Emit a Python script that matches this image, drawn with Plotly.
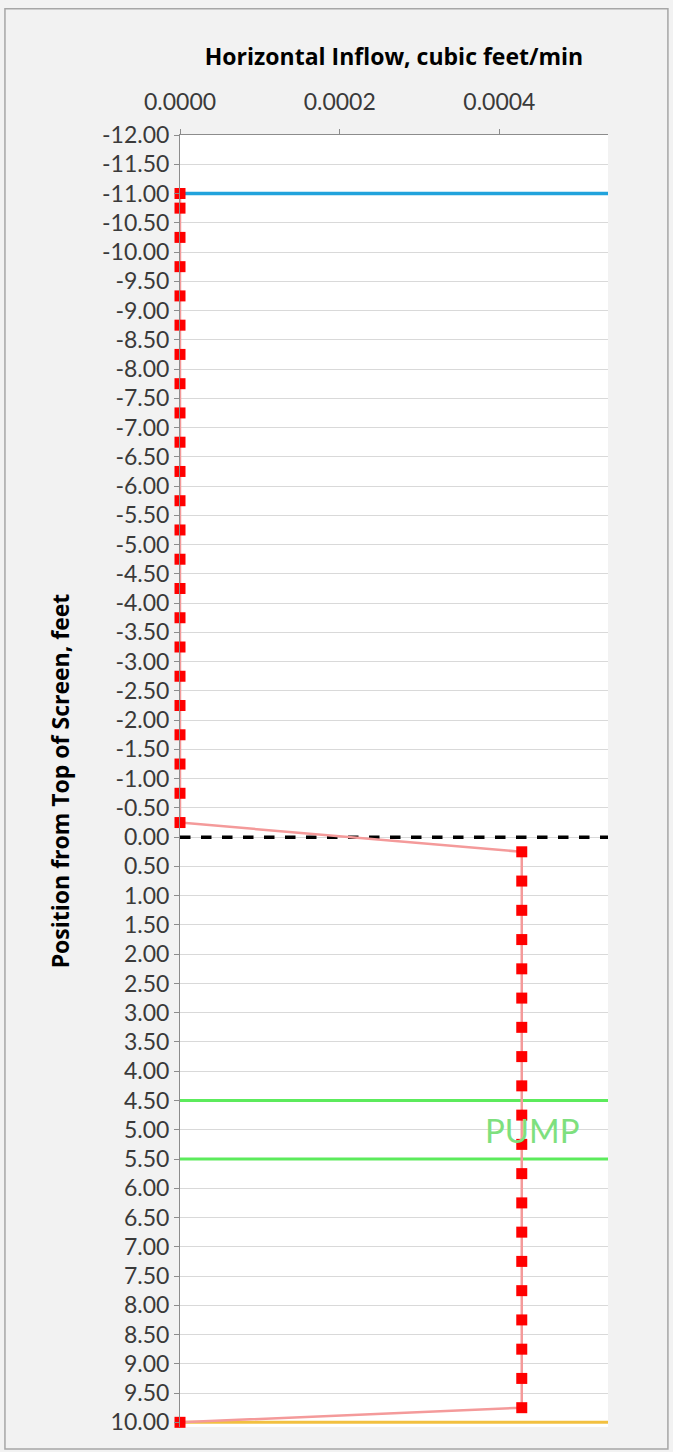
import plotly.graph_objects as go

# Horizontal inflow profile along the screen
inflow_x = [0.0] * 23 + [0.000428] * 20 + [0.0]
position_y = ([-11.0, -10.75] + [-10.25 + 0.5 * i for i in range(21)]
              + [0.25 + 0.5 * i for i in range(20)] + [10.0])

x_max = 0.000536
span_x = [0.0, x_max]

# Reference levels
water_level = [-11.0, -11.0]
screen_top = [0.0, 0.0]
pump_top = [4.5, 4.5]
pump_bottom = [5.5, 5.5]
well_bottom = [10.0, 10.0]

y_ticks = [-12 + 0.5 * i for i in range(45)]
y_labels = [f"{v:.2f}" for v in y_ticks]
x_ticks = [0.0, 0.0002, 0.0004]
x_labels = ["0.0000", "0.0002", "0.0004"]

font_ticks = dict(family="Lato, sans-serif", size=23, color="#3a3a3a")
font_title = dict(family="Open Sans, sans-serif", size=23, color="#000000")

fig = go.Figure()

fig.add_trace(go.Scatter(x=span_x, y=water_level, mode="lines",
                         line=dict(color="#21a3dc", width=3.5), hoverinfo="skip"))
fig.add_trace(go.Scatter(x=span_x, y=screen_top, mode="lines",
                         line=dict(color="#000000", width=3.5, dash="dash"), hoverinfo="skip"))
fig.add_trace(go.Scatter(x=span_x, y=pump_top, mode="lines",
                         line=dict(color="#5ceb5c", width=3), hoverinfo="skip"))
fig.add_trace(go.Scatter(x=span_x, y=pump_bottom, mode="lines",
                         line=dict(color="#5ceb5c", width=3), hoverinfo="skip"))
fig.add_trace(go.Scatter(x=span_x, y=well_bottom, mode="lines",
                         line=dict(color="#f2c040", width=3), hoverinfo="skip"))
fig.add_trace(go.Scatter(x=inflow_x, y=position_y, mode="lines+markers",
                         line=dict(color="#f49a9a", width=2.5),
                         marker=dict(symbol="square", size=11, color="#ff0000"),
                         cliponaxis=False))

fig.add_annotation(x=0.000441, y=5.0, text="PUMP", showarrow=False,
                   font=dict(family="Lato, sans-serif", size=33, color="#7ee07e"))

fig.update_xaxes(side="top", range=[0, x_max], tickvals=x_ticks, ticktext=x_labels,
                 showgrid=False, showline=True, linecolor="#8c8c8c", linewidth=1,
                 ticks="outside", ticklen=5, tickcolor="#8c8c8c",
                 ticklabelstandoff=10,
                 tickfont=font_ticks,
                 title=dict(text="<b>Horizontal Inflow, cubic feet/min</b>", standoff=14,
                            font=font_title),
                 zeroline=False)
fig.update_yaxes(range=[10.08, -12], tickvals=y_ticks, ticktext=y_labels,
                 showgrid=True, gridcolor="#d9d9d9", gridwidth=1,
                 showline=True, linecolor="#8c8c8c", linewidth=1,
                 ticks="outside", ticklen=5, tickcolor="#8c8c8c",
                 tickfont=font_ticks,
                 title=dict(text="<b>Position from Top of Screen, feet</b>", standoff=26,
                            font=font_title),
                 zeroline=False)

fig.add_shape(type="rect", xref="paper", yref="paper", layer="below",
              x0=-0.409, x1=1.140, y0=-0.0171, y1=1.0978, line=dict(color="#a6a6a6", width=1.5))

fig.update_layout(width=673, height=1452, showlegend=False,
                  margin=dict(l=180, r=65, t=135, b=25),
                  paper_bgcolor="#f2f2f2", plot_bgcolor="#ffffff")

fig.write_html("out.html")
